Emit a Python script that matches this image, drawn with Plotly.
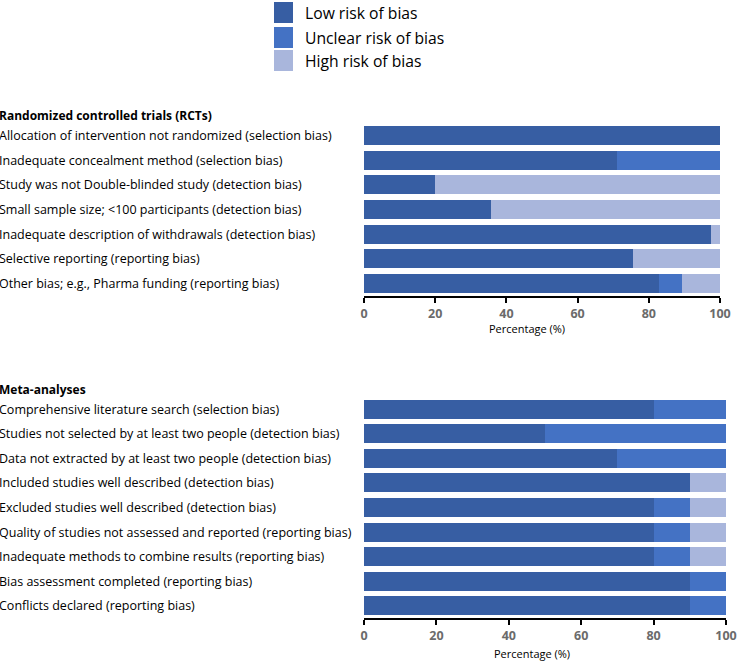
import plotly.graph_objects as go

rct_items = [
    "Allocation of intervention not randomized (selection bias)",
    "Inadequate concealment method (selection bias)",
    "Study was not Double-blinded study (detection bias)",
    "Small sample size; <100 participants (detection bias)",
    "Inadequate description of withdrawals (detection bias)",
    "Selective reporting (reporting bias)",
    "Other bias; e.g., Pharma funding (reporting bias)",
]
rct_low = [100, 71, 20, 35.6, 97.6, 75.5, 83]
rct_unclear = [0, 29, 0, 0, 0, 0, 6.4]
rct_high = [0, 0, 80, 64.4, 2.4, 24.5, 10.6]

meta_items = [
    "Comprehensive literature search (selection bias)",
    "Studies not selected by at least two people (detection bias)",
    "Data not extracted by at least two people (detection bias)",
    "Included studies well described (detection bias)",
    "Excluded studies well described (detection bias)",
    "Quality of studies not assessed and reported (reporting bias)",
    "Inadequate methods to combine results (reporting bias)",
    "Bias assessment completed (reporting bias)",
    "Conflicts declared (reporting bias)",
]
meta_low = [80, 50, 70, 90, 80, 80, 80, 90, 90]
meta_unclear = [20, 50, 30, 0, 10, 10, 10, 10, 10]
meta_high = [0, 0, 0, 10, 10, 10, 10, 0, 0]

series_names = ["Low risk of bias", "Unclear risk of bias", "High risk of bias"]
colors = ["#375EA3", "#4472C4", "#A9B6DC"]
x_ticks = [0, 20, 40, 60, 80, 100]

W, H = 753, 663
FONT = "Open Sans"
LBL = 12.5

fig = go.Figure()
for vals, name, col in zip([rct_low, rct_unclear, rct_high], series_names, colors):
    fig.add_trace(go.Bar(y=rct_items, x=vals, orientation="h", name=name,
                         marker=dict(color=col, line=dict(width=0)),
                         xaxis="x", yaxis="y", showlegend=False))
for vals, name, col in zip([meta_low, meta_unclear, meta_high], series_names, colors):
    fig.add_trace(go.Bar(y=meta_items, x=vals, orientation="h", name=name,
                         marker=dict(color=col, line=dict(width=0)),
                         xaxis="x2", yaxis="y2", showlegend=False))

axis_common = dict(range=[0, 100], tickvals=x_ticks, showgrid=False, zeroline=False,
                   showline=True, linecolor="black", linewidth=1.5,
                   ticks="outside", ticklen=5, tickcolor="black", tickwidth=1.5,
                   tickfont=dict(family=FONT, size=12.5, color="#6b6b6b", weight="bold"),
                   fixedrange=True)

fig.update_layout(
    autosize=True, height=H,
    margin=dict(l=0, r=0, t=0, b=0, autoexpand=False),
    paper_bgcolor="white", plot_bgcolor="white",
    barmode="stack", bargap=0.23,
    font=dict(family=FONT, size=LBL, color="black"),
    xaxis=dict(domain=[364 / W, 720 / W], anchor="y", **axis_common),
    yaxis=dict(domain=[1 - 296 / H, 1 - 123 / H], anchor="x", range=[6.5, -0.5],
               showticklabels=False, showgrid=False, showline=False, ticks=""),
    xaxis2=dict(domain=[364 / W, 726 / W], anchor="y2", **axis_common),
    yaxis2=dict(domain=[1 - 618 / H, 1 - 397 / H], anchor="x2", range=[8.5, -0.5],
                showticklabels=False, showgrid=False, showline=False, ticks=""),
)

ann = []
for it in rct_items:
    ann.append(dict(x=-3 / W, xref="paper", y=it, yref="y", text=it, showarrow=False,
                    xanchor="left", yanchor="middle", font=dict(size=LBL)))
for it in meta_items:
    ann.append(dict(x=-3 / W, xref="paper", y=it, yref="y2", text=it, showarrow=False,
                    xanchor="left", yanchor="middle", font=dict(size=LBL)))
ann.append(dict(x=-3 / W, xref="paper", y=1 - 115 / H, yref="paper", text="<b>Randomized controlled trials (RCTs)</b>",
                showarrow=False, xanchor="left", yanchor="middle", font=dict(size=12)))
ann.append(dict(x=-3 / W, xref="paper", y=1 - 389 / H, yref="paper", text="<b>Meta-analyses</b>",
                showarrow=False, xanchor="left", yanchor="middle", font=dict(size=12)))
ann.append(dict(x=527 / W, xref="paper", y=1 - 328 / H, yref="paper", text="Percentage (%)",
                showarrow=False, xanchor="center", yanchor="middle", font=dict(size=11)))
ann.append(dict(x=532 / W, xref="paper", y=1 - 653 / H, yref="paper", text="Percentage (%)",
                showarrow=False, xanchor="center", yanchor="middle", font=dict(size=11)))

shapes = []
leg_y = [(2, 23), (27, 48), (50, 71)]
for (y0, y1), name, col in zip(leg_y, series_names, colors):
    shapes.append(dict(type="rect", xref="paper", yref="paper", x0=274 / W, x1=293 / W,
                       y0=1 - y1 / H, y1=1 - y0 / H, fillcolor=col, line=dict(width=0)))
    ann.append(dict(x=303 / W, xref="paper", y=1 - (y0 + y1) / 2 / H, yref="paper", text=name,
                    showarrow=False, xanchor="left", yanchor="middle", font=dict(size=15.7)))

fig.update_layout(annotations=ann, shapes=shapes)
fig.write_html("out.html", config={"displayModeBar": False, "responsive": True},
               default_width="100%", default_height="663px",
               post_script="document.body.style.margin='0px';document.body.style.overflow='hidden';"
                           "document.documentElement.style.overflow='hidden';"
                           "Plotly.Plots.resize(document.getElementById('{plot_id}'));")
